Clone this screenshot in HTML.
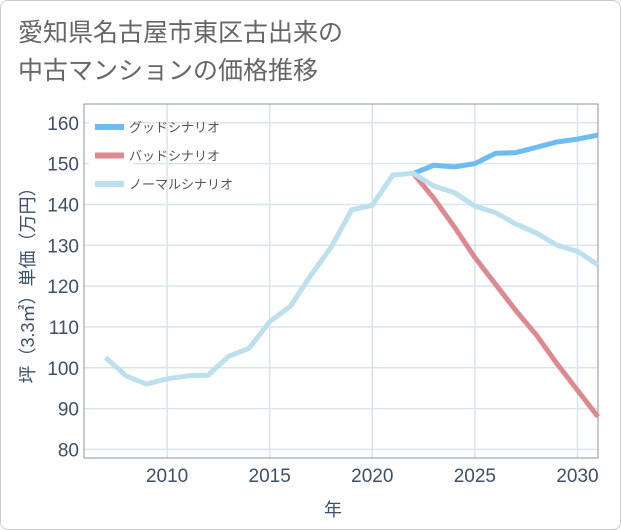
<!DOCTYPE html>
<html><head><meta charset="utf-8">
<style>
body{margin:0;background:#fff;font-family:"Liberation Sans","Noto Sans CJK JP",sans-serif;}
#wrap{position:relative;width:619px;height:528px;border:1px solid #ccc;border-radius:8px;overflow:hidden;}
#title{position:absolute;left:17px;top:13px;font-size:25px;line-height:38px;color:#666;}
svg{position:absolute;left:0;top:0;}
</style></head><body>
<div id="wrap">
<div id="title">愛知県名古屋市東区古出来の<br>中古マンションの価格推移</div>
<svg id="chart" width="621" height="530"></svg>
</div>
<script>
const years=[2007,2008,2009,2010,2011,2012,2013,2014,2015,2016,2017,2018,2019,2020,2021,2022,2023,2024,2025,2026,2027,2028,2029,2030,2031];
const normalVals=[102.5,98,96,97.3,98,98.2,102.8,104.8,111.3,115,122.6,129.6,138.7,139.8,147.2,147.6,144.5,142.9,139.6,138,135.2,133,130,128.5,125.2];
const goodYears=[2022,2023,2024,2025,2026,2027,2028,2029,2030,2031];
const goodVals=[147.6,149.6,149.2,150,152.5,152.7,154,155.3,156,157];
const badVals=[147.6,141.5,134.5,127,120.5,114,108,101,94.5,88];
const xTicks=[2010,2015,2020,2025,2030];
const yTicks=[80,90,100,110,120,130,140,150,160];
const L=83,R=597,T=103,B=457;
const xs=y=>L+(y-2005.95)/(2031-2005.95)*(R-L);
const ys=v=>B-(v-77.9)/(164.6-77.9)*(B-T);
const svg=document.getElementById('chart');
const NS='http://www.w3.org/2000/svg';
function mk(t,a,parent){const e=document.createElementNS(NS,t);for(const k in a)e.setAttribute(k,a[k]);(parent||svg).appendChild(e);return e;}
yTicks.forEach(v=>{
 const l=mk('line',{x1:L,x2:R,y1:ys(v),y2:ys(v),stroke:'#d8e4ee','stroke-width':1.5});
 
 
 const t=mk('text',{x:L-5,y:ys(v)+7,'text-anchor':'end','font-size':19,fill:'#3d5068'});
 t.textContent=v;
 
 
});
xTicks.forEach(v=>{
 const l=mk('line',{x1:xs(v),x2:xs(v),y1:T,y2:B,stroke:'#d8e4ee','stroke-width':1.5});
 
 
 const t=mk('text',{x:xs(v),y:B+24,'text-anchor':'middle','font-size':19,fill:'#3d5068'});
 t.textContent=v;
 
 
});
const fr=mk('rect',{x:L,y:T,width:R-L,height:B-T,fill:'none',stroke:'#8a96a3','stroke-width':1});


function line(xv,yv,color,name){
 const d=xv.map((x,i)=>(i?'L':'M')+xs(x)+','+ys(yv[i])).join(' ');
 const p=mk('path',{d:d,fill:'none',stroke:color,'stroke-width':5,'stroke-linejoin':'round'});
 
 
}
line(goodYears,goodVals,'#6dbdf2','good-scenario-line');
line(goodYears,badVals,'#dc8a90','bad-scenario-line');
line(years,normalVals,'#bde0ee','normal-scenario-line');
const leg=[['グッドシナリオ','#6dbdf2'],['バッドシナリオ','#dc8a90'],['ノーマルシナリオ','#bde0ee']];
const lg=mk('g',{});


mk('rect',{x:88,y:110,width:45,height:92,fill:'#fff'},lg);
leg.forEach((e,i)=>{
 const y=126+i*28.5;
 const r=mk('rect',{x:94,y:y-3,width:29,height:6,fill:e[1]},lg);
 
 
 const t=mk('text',{x:128,y:y+5,'font-size':13,fill:'#555'},lg);
 t.textContent=e[0];
 
 
});
const yt=mk('text',{x:0,y:0,'font-size':18,fill:'#3d5068','text-anchor':'middle',transform:'translate(33,280) rotate(-90)'});
yt.textContent='坪（3.3㎡）単価（万円）';


const xt=mk('text',{x:332,y:515,'font-size':18,fill:'#3d5068','text-anchor':'middle'});
xt.textContent='年';


</script>
</body></html>
